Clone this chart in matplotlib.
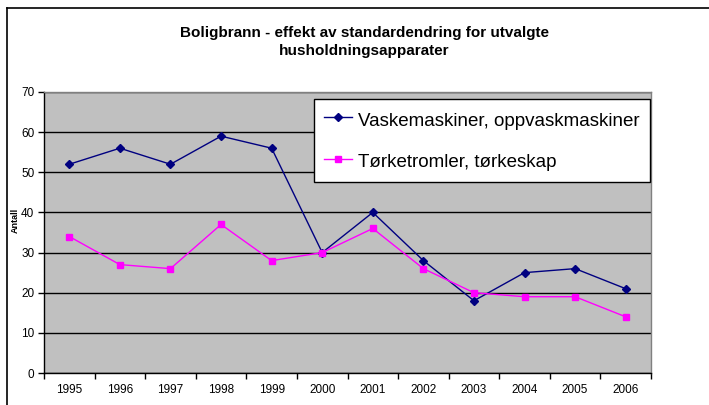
import matplotlib
matplotlib.use("Agg")
import matplotlib.pyplot as plt
from matplotlib.lines import Line2D
import numpy as np

plt.rcParams["font.family"] = ["Liberation Sans", "DejaVu Sans"]

# Data
YEARS = ["1995", "1996", "1997", "1998", "1999", "2000",
         "2001", "2002", "2003", "2004", "2005", "2006"]
VASK = [52, 56, 52, 59, 56, 30, 40, 28, 18, 25, 26, 21]
TORK = [34, 27, 26, 37, 28, 30, 36, 26, 20, 19, 19, 14]
LABEL_VASK = "Vaskemaskiner, oppvaskmaskiner"
LABEL_TORK = "Tørketromler, tørkeskap"
TITLE = "Boligbrann - effekt av standardendring for utvalgte\nhusholdningsapparater"

W, H = 709, 405
fig = plt.figure(figsize=(W / 100, H / 100), dpi=100)
fig.patch.set_facecolor("white")

# plot area in pixel coords -> figure fractions
L, R, T, B = 44, 651, 92, 373
ax = fig.add_axes([L / W, 1 - B / H, (R - L) / W, (B - T) / H])
ax.set_facecolor("#C0C0C0")

x = np.arange(len(YEARS))
ax.plot(x, VASK, color="#000080", lw=1.0, marker="D", ms=4,
        mfc="#000080", mec="#000080", label=LABEL_VASK, zorder=4)
ax.plot(x, TORK, color="#FF00FF", lw=1.0, marker="s", ms=5,
        mfc="#FF00FF", mec="#FF00FF", label=LABEL_TORK, zorder=4)

ax.set_xlim(-0.5, len(YEARS) - 0.5)
ax.set_ylim(0, 70)
ax.set_yticks(range(0, 71, 10))
ax.yaxis.grid(True, color="black", lw=1.0)
ax.set_axisbelow(True)

# category axis: labels centred, tick marks between categories
ax.set_xticks(x)
ax.set_xticklabels(YEARS)
ax.set_xticks(np.arange(-0.5, len(YEARS)), minor=True)
ax.tick_params(axis="x", which="major", length=0, pad=8, labelsize=8.5)
ax.tick_params(axis="x", which="minor", length=4, width=1, direction="out")
ax.tick_params(axis="y", length=4, width=1, direction="out", labelsize=8.5, pad=3)

for s in ("top", "right"):
    ax.spines[s].set_color("#808080")
    ax.spines[s].set_linewidth(1)
for s in ("left", "bottom"):
    ax.spines[s].set_color("black")
    ax.spines[s].set_linewidth(1)

fig.text(15 / W, 1 - 220 / H, "Antall", rotation=90, fontsize=6.5,
         fontweight="bold", ha="center", va="center")

fig.text(364 / W, 1 - 42 / H, TITLE, fontsize=11, fontweight="bold",
         ha="center", va="center", linespacing=1.45)

leg = ax.legend(loc="upper left", bbox_to_anchor=(314 / W, 1 - 99 / H),
                bbox_transform=fig.transFigure, fontsize=13.5, frameon=True,
                fancybox=False, shadow=False, borderpad=0.55, labelspacing=1.15,
                handlelength=1.5, handleheight=1.25, handletextpad=0.3,
                borderaxespad=0)
leg.get_frame().set_edgecolor("black")
leg.get_frame().set_linewidth(1)
leg.get_frame().set_alpha(1)

# outer chart frame (left and top edges visible)
fig.add_artist(Line2D([6.5 / W, 6.5 / W], [0, 1 - 8 / H], color="black",
                      lw=1.2, transform=fig.transFigure))
fig.add_artist(Line2D([6.5 / W, 1], [1 - 8 / H, 1 - 8 / H], color="black",
                      lw=1.2, transform=fig.transFigure))

fig.savefig("out.png", dpi=100)
